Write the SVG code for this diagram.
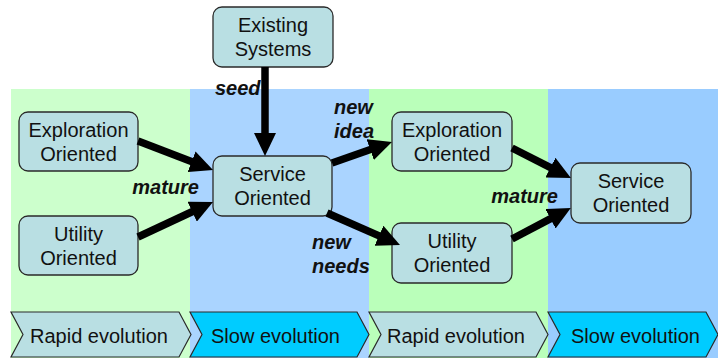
<svg xmlns="http://www.w3.org/2000/svg" width="718" height="358" viewBox="0 0 718 358">
<style>
.box{fill:#B9DFE3;stroke:#2a2a2a;stroke-width:1.3}
.t{font-family:"Liberation Sans",Arial,sans-serif;font-size:20px;fill:#111;text-anchor:middle}
.ct{font-family:"Liberation Sans",Arial,sans-serif;font-size:20px;fill:#111}
.lb{font-family:"Liberation Sans",Arial,sans-serif;font-size:20px;font-weight:bold;font-style:italic;fill:#111}
.rapid{fill:#B9DFE3;stroke:#2a2a2a;stroke-width:1.2}
.slow{fill:#00CCFF;stroke:#2a2a2a;stroke-width:1.2}
.c{stroke:#000;stroke-width:7.5;fill:none;marker-end:url(#ah)}
</style>
<defs>
<marker id="ah" markerUnits="userSpaceOnUse" markerWidth="23" markerHeight="22" viewBox="0 0 23 22" refX="4" refY="11" orient="auto">
<path d="M0,0 L23,11 L0,22 z" fill="#000"/>
</marker>
</defs>
<rect width="718" height="358" fill="#fff"/>
<g id="bands">
<rect x="11" y="89" width="179" height="269" fill="#CCFFCC"/>
<rect x="190" y="89" width="179" height="269" fill="#AAD4FF"/>
<rect x="369" y="89" width="179" height="269" fill="#BAFFBA"/>
<rect x="548" y="89" width="170" height="269" fill="#99CCFF"/>
</g>
<g id="phases">
<polygon class="rapid" points="11,312 179,312 191,334.5 179,357 11,357 23,334.5"/>
<text class="ct" x="30" y="343">Rapid evolution</text>
<polygon class="slow" points="190,312 357,312 369,334.5 357,357 190,357 202,334.5"/>
<text class="ct" x="211" y="343">Slow evolution</text>
<polygon class="rapid" points="369,312 536,312 548,334.5 536,357 369,357 381,334.5"/>
<text class="ct" x="387" y="343">Rapid evolution</text>
<polygon class="slow" points="548,312 706,312 718,334.5 706,357 548,357 560,334.5"/>
<text class="ct" x="571" y="343">Slow evolution</text>
</g>
<g id="existing">
<rect class="box" x="213" y="7" width="120" height="60" rx="9"/>
<text class="t" x="273" y="32">Existing</text>
<text class="t" x="273" y="56">Systems</text>
</g>
<g id="exploration1">
<rect class="box" x="19" y="112" width="119" height="59" rx="9"/>
<text class="t" x="78.5" y="137">Exploration</text>
<text class="t" x="78.5" y="161">Oriented</text>
</g>
<g id="utility1">
<rect class="box" x="19" y="216" width="119" height="59" rx="9"/>
<text class="t" x="78.5" y="241">Utility</text>
<text class="t" x="78.5" y="265">Oriented</text>
</g>
<g id="service1">
<rect class="box" x="213" y="156" width="119" height="60" rx="9"/>
<text class="t" x="272.5" y="181">Service</text>
<text class="t" x="272.5" y="205">Oriented</text>
</g>
<g id="exploration2">
<rect class="box" x="392" y="112" width="120" height="59" rx="9"/>
<text class="t" x="452" y="137">Exploration</text>
<text class="t" x="452" y="161">Oriented</text>
</g>
<g id="utility2">
<rect class="box" x="392" y="223" width="120" height="60" rx="9"/>
<text class="t" x="452" y="248">Utility</text>
<text class="t" x="452" y="272">Oriented</text>
</g>
<g id="service2">
<rect class="box" x="571" y="163" width="120" height="60" rx="9"/>
<text class="t" x="631" y="188">Service</text>
<text class="t" x="631" y="212">Oriented</text>
</g>
<g id="connectors">
<line class="c" x1="265" y1="67" x2="265" y2="137"/>
<line class="c" x1="138" y1="141" x2="195.3" y2="163.1"/>
<line class="c" x1="138" y1="237" x2="195.8" y2="210"/>
<line class="c" x1="332" y1="163" x2="374" y2="148.3"/>
<line class="c" x1="327" y1="213" x2="382.6" y2="237.4"/>
<line class="c" x1="512" y1="148" x2="554" y2="169.4"/>
<line class="c" x1="512" y1="239" x2="554" y2="216.9"/>
</g>
<g id="labels">
<text class="lb" x="215" y="95">seed</text>
<text class="lb" x="199" y="194" text-anchor="end">mature</text>
<text class="lb" x="334" y="114">new</text>
<text class="lb" x="334" y="138">idea</text>
<text class="lb" x="312" y="249">new</text>
<text class="lb" x="312" y="273">needs</text>
<text class="lb" x="558" y="203" text-anchor="end">mature</text>
</g>
</svg>
